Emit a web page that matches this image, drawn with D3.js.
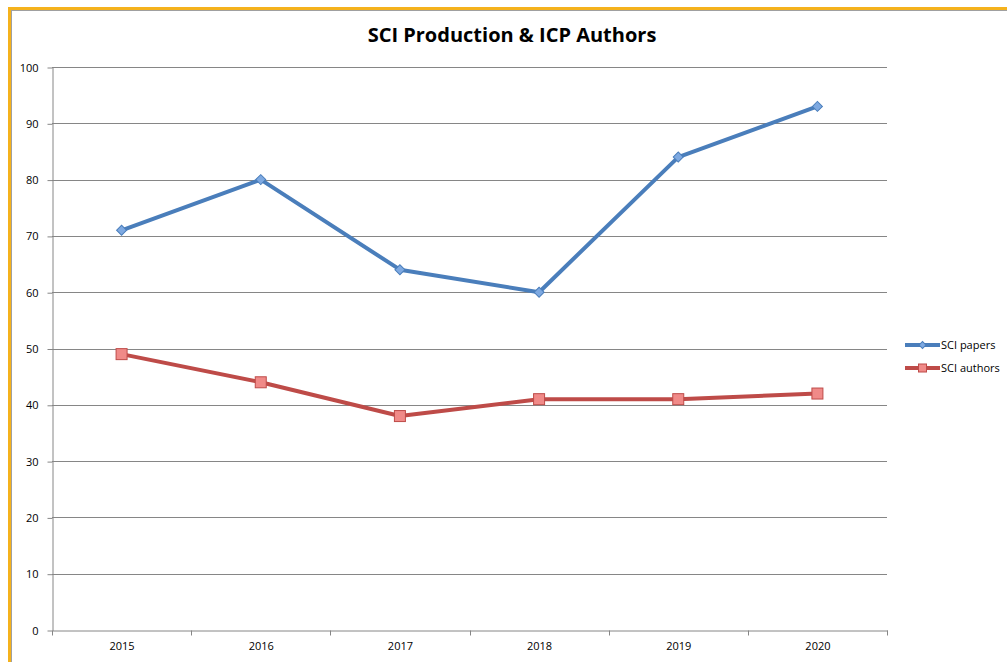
<!DOCTYPE html>
<html><head><meta charset="utf-8">
<script src="https://cdnjs.cloudflare.com/ajax/libs/d3/7.8.5/d3.min.js"></script>
<style>body{margin:0;background:#fff;}svg{display:block;font-family:"Open Sans","Liberation Sans",sans-serif;}</style>
</head><body><svg id="c" width="1007" height="662"></svg>
<script>
const categories = ["2015","2016","2017","2018","2019","2020"];
const papers = [71, 80, 64, 60, 84, 93];
const authors = [49, 44, 38, 41, 41, 42];
const yTicks = [0,10,20,30,40,50,60,70,80,90,100];
const seriesNames = ["SCI papers","SCI authors"];
const title = "SCI Production & ICP Authors";

const svg = d3.select("#c");
// frame
svg.append("rect").attr("x",9.5).attr("y",8.5).attr("width",1100).attr("height",700)
  .attr("fill","none").attr("stroke","#f5b21c").attr("stroke-width",3);
svg.append("rect").attr("x",11.5).attr("y",10.5).attr("width",1100).attr("height",700)
  .attr("fill","none").attr("stroke","#a0a0a0").attr("stroke-width",1);

const L=52, R=887, T=67, B=630;
const x = d3.scaleBand().domain(categories).range([L,R]);
const y = d3.scaleLinear().domain([0,100]).range([B,T]);

// gridlines
svg.append("g").selectAll("line").data(yTicks.filter(d=>d>0)).join("line")
  .attr("x1",L).attr("x2",R).attr("y1",d=>Math.round(y(d))+0.5).attr("y2",d=>Math.round(y(d))+0.5)
  .attr("stroke","#868686").attr("stroke-width",1);

// y axis
const ya = svg.append("g").attr("transform",`translate(${L+0.5},0.5)`)
  .call(d3.axisLeft(y).tickValues(yTicks).tickSize(5).tickPadding(9).tickSizeOuter(0));
ya.select(".domain").attr("stroke","#868686");
ya.selectAll(".tick line").attr("stroke","#868686");
ya.selectAll("text").attr("font-size",11).attr("fill","#000").attr("font-family","'Open Sans','Liberation Sans',sans-serif");

// x axis
const xa = svg.append("g").attr("transform",`translate(0.5,${B+0.5})`)
  .call(d3.axisBottom(x).tickSize(0).tickPadding(12));
xa.select(".domain").attr("stroke","#868686");
xa.selectAll("text").attr("font-size",11).attr("fill","#000").attr("font-family","'Open Sans','Liberation Sans',sans-serif");
const bounds = categories.map(c=>x(c)).concat([R]);
xa.append("g").selectAll("line").data(bounds).join("line")
  .attr("x1",d=>Math.round(d)).attr("x2",d=>Math.round(d)).attr("y1",0).attr("y2",5)
  .attr("stroke","#868686");

const cx = c => x(c)+x.bandwidth()/2;
const line = d3.line().x((d,i)=>cx(categories[i])).y(d=>y(d));

const blue="#4a7ebb", red="#be4b48";
svg.append("path").datum(papers).attr("d",line).attr("fill","none").attr("stroke",blue).attr("stroke-width",4).attr("stroke-linejoin","round");
svg.append("path").datum(authors).attr("d",line).attr("fill","none").attr("stroke",red).attr("stroke-width",4).attr("stroke-linejoin","round");

const diamond = d3.symbol().type(d3.symbolDiamond2 || d3.symbolDiamond).size(70);
svg.append("g").selectAll("path").data(papers).join("path")
  .attr("transform",(d,i)=>`translate(${cx(categories[i])},${y(d)})`)
  .attr("d",d3.symbol().type(d3.symbolSquare).size(50)).attr("transform",(d,i)=>`translate(${cx(categories[i])},${y(d)}) rotate(45)`)
  .attr("fill","#7ea9e1").attr("stroke",blue).attr("stroke-width",1);
svg.append("g").selectAll("rect").data(authors).join("rect")
  .attr("x",(d,i)=>cx(categories[i])-5.5).attr("y",d=>y(d)-5.5).attr("width",11).attr("height",11)
  .attr("fill","#f08a88").attr("stroke",red).attr("stroke-width",1);

// title
svg.append("text").attr("x",512).attr("y",42).attr("text-anchor","middle")
  .attr("font-size",20).attr("font-weight","bold").attr("fill","#000").text(title);

// legend
const leg = svg.append("g");
const ly = [345, 368];
seriesNames.forEach((n,i)=>{
  const col = i===0?blue:red;
  leg.append("line").attr("x1",905).attr("x2",940).attr("y1",ly[i]).attr("y2",ly[i]).attr("stroke",col).attr("stroke-width",4);
  if(i===0){
    leg.append("path").attr("d",d3.symbol().type(d3.symbolSquare).size(24)).attr("transform",`translate(922.5,${ly[i]}) rotate(45)`)
      .attr("fill","#7ea9e1").attr("stroke",blue);
  } else {
    leg.append("rect").attr("x",918.5).attr("y",ly[i]-4).attr("width",8).attr("height",8).attr("fill","#f08a88").attr("stroke",red);
  }
  leg.append("text").attr("x",941).attr("y",ly[i]+4).attr("font-size",11).attr("fill","#000").text(n);
});
</script></body></html>
